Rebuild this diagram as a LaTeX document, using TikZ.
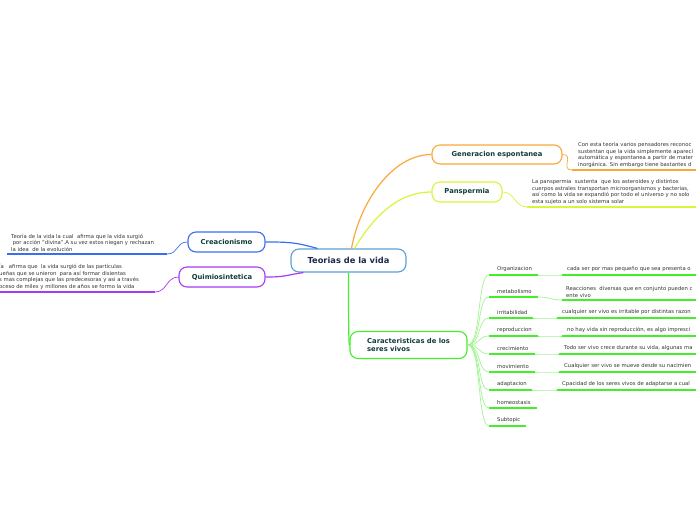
\documentclass[tikz,border=0pt]{standalone}
\usepackage{fontspec}
\setmainfont{DejaVu Sans}
\definecolor{cOr}{HTML}{FBA73A}
\definecolor{cYg}{HTML}{D8F53C}
\definecolor{cBl}{HTML}{3A6EF2}
\definecolor{cPu}{HTML}{A43CF2}
\definecolor{cGr}{HTML}{44EE2A}
\definecolor{cGrL}{HTML}{A2F592}
\definecolor{cCt}{HTML}{5A9FD6}
\definecolor{cTitle}{HTML}{0F3D3A}
\definecolor{cNavy}{HTML}{1B2B4B}
\definecolor{cTxt}{HTML}{333333}
\tikzset{
  topic/.style={draw, rounded corners=8pt, line width=1.1pt, fill=white, inner sep=0pt,
    font=\fontsize{6.8}{8.3}\selectfont\bfseries, text=cTitle},
  desc/.style={anchor=south west, align=left, inner sep=0pt, text=cTxt,
    font=\fontsize{5.3}{6.6}\selectfont},
  sublbl/.style={anchor=south west, inner sep=0pt, text=cTxt, font=\fontsize{5.3}{6.6}\selectfont},
  uline/.style={line width=1.8pt},
  conn/.style={line width=1.2pt},
  thin/.style={line width=0.7pt},
}
\begin{document}
\begin{tikzpicture}[x=1pt,y=-1pt]
\useasboundingbox (0,0) rectangle (696,520);
\clip (0,0) rectangle (696,520);

% main nodes
\node[topic, draw=cCt, fill=white, minimum width=115pt, minimum height=23pt,
  font=\fontsize{8.3}{10}\selectfont\bfseries, text=cNavy] (ct) at (348.5,260.5) {Teorias de la vida};
\node[topic, draw=cOr, minimum width=130pt, minimum height=19pt] (gen) at (497,154.5) {Generacion espontanea};
\node[topic, draw=cYg, minimum width=70pt, minimum height=20pt] (pan) at (467,192) {Panspermia};
\node[topic, draw=cBl, minimum width=77pt, minimum height=20pt] (cre) at (226.5,242) {Creacionismo};
\node[topic, draw=cPu, minimum width=86pt, minimum height=20pt] (qui) at (222,277) {Quimiosintetica};
\node[topic, draw=cGr, minimum width=117pt, minimum height=27pt, align=left] (car) at (408.5,345)
  {Caracteristicas de los\\seres vivos};

% main connectors
\draw[conn, cOr] ([xshift=3pt]ct.north) .. controls +(8,-45) and +(-40,0) .. (gen.west);
\draw[conn, cYg] ([xshift=6pt]ct.north) .. controls +(18,-30) and +(-35,0) .. (pan.west);
\draw[conn, cBl] ([xshift=-31pt]ct.north) .. controls +(-22,-6) and +(25,0) .. (cre.east);
\draw[conn, cPu] ([xshift=-45pt]ct.south) .. controls +(-20,3) and +(20,0) .. (qui.east);
\draw[conn, cGr] (ct.south) .. controls (348.5,338) and (349,345) .. (car.west);

% Generacion description
\coordinate (genA) at (572,170);
\coordinate (genB) at (700,170);
\draw[thin, cOr] (gen.east) .. controls +(12,0) and +(-12,0) .. (genA);
\draw[uline, cOr] (genA) -- (genB);
\node[desc] (genD) at (578,167.5) {Con esta teoría varios pensadores reconoc\\sustentan que la vida simplemente aparecí\\automática y espontanea a partir de mater\\inorgánica. Sin embargo tiene bastantes d};

% Panspermia description
\coordinate (panA) at (527,207);
\coordinate (panB) at (700,207);
\draw[thin, cYg] (pan.east) .. controls +(12,0) and +(-12,0) .. (panA);
\draw[uline, cYg] (panA) -- (panB);
\node[desc] (panD) at (532,204.5) {La panspermia\ \ sustenta\ \ que los asteroides y distintos\\cuerpos astrales transportan microorganismos y bacterias,\\así como la vida se expandió por todo el universo y no solo\\esta sujeto a un solo sistema solar};

% Creacionismo description
\coordinate (creA) at (167,254);
\coordinate (creB) at (7,254);
\draw[thin, cBl] (cre.west) .. controls +(-12,0) and +(12,0) .. (creA);
\draw[uline, cBl] (creA) -- (creB);
\node[desc] (creD) at (11,251.5) {Teoría de la vida la cual\ \ afirma que la vida surgió\\\ por acción "divina".A su vez estos niegan y rechazan\\la idea\ \ de la evolución};

% Quimiosintetica description
\coordinate (quiA) at (155,292);
\coordinate (quiB) at (-5,292);
\draw[thin, cPu] (qui.west) .. controls +(-12,0) and +(12,0) .. (quiA);
\draw[uline, cPu] (quiA) -- (quiB);
\node[desc] (quiD) at (-1,289.5) {ía\ \ \ afirma que\ \ la vida surgió de las partículas\\ueñas que se unieron\ \ para así formar disientas\\s mas complejas que las predecesoras y asi a través\\oceso de miles y millones de años se formo la vida};

% Subtopics of Caracteristicas
\foreach \nm/\lbl/\y/\xe in {
  org/Organizacion/275/538,
  met/metabolismo/297/538,
  irr/irritabilidad/318/533,
  rep/reproduccion/336/538,
  cre2/crecimiento/354/535,
  mov/movimiento/372/535,
  ada/adaptacion/390/532,
  hom/homeostasis/408/537,
  sub/Subtopic/426/526}{
  \coordinate (\nm A) at (489,\y);
  \coordinate (\nm B) at (\xe,\y);
  \draw[thin, cGrL] (car.east) .. controls +(14,0) and +(-12,0) .. (\nm A);
  \draw[uline, cGr, line width=1.5pt] (\nm A) -- (\nm B);
  \node[sublbl] (\nm L) at (497,\y-3) {\lbl};
}

% descriptions of subtopics
\foreach \nm/\y/\xs/\txt in {
  org/275/562/{cada ser por mas pequeño que sea presenta o},
  irr/318/557/{cualquier ser vivo es irritable por distintas razon},
  rep/336/562/{no hay vida sin reproducción, es algo impresci},
  cre2/354/559/{Todo ser vivo crece durante su vida, algunas ma},
  mov/372/559/{Cualquier ser vivo se mueve desde su nacimien},
  ada/390/557/{Cpacidad de los seres vivos de adaptarse a cual}}{
  \coordinate (\nm C) at (\xs,\y);
  \coordinate (\nm D) at (700,\y);
  \draw[thin, cGrL] (\nm B) .. controls +(10,0) and +(-10,0) .. (\nm C);
  \draw[uline, cGr, line width=1.5pt] (\nm C) -- (\nm D);
  \node[sublbl] (\nm T) at (\xs+5,\y-3) {\txt};
}
\coordinate (metC) at (562,300);
\coordinate (metD) at (700,300);
\draw[thin, cGrL] (metB) .. controls +(12,0) and +(-12,0) .. (metC);
\draw[uline, cGr, line width=1.5pt] (metC) -- (metD);
\node[desc] (metT) at (566,297.5) {Reacciones\ \ diversas que en conjunto pueden c\\ente vivo};

\end{tikzpicture}
\end{document}
